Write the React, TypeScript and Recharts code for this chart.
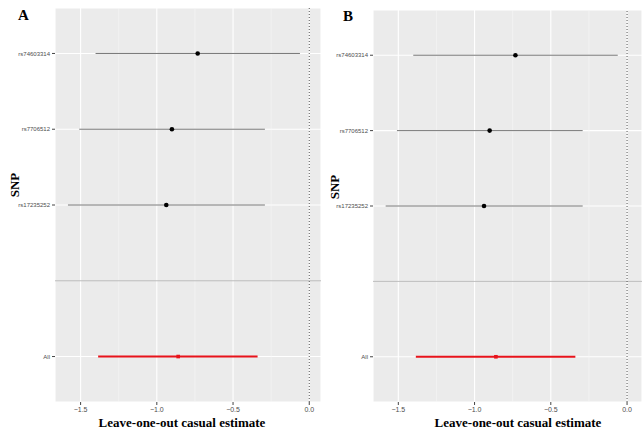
import React from 'react';
import { ScatterChart, Scatter, XAxis, YAxis, CartesianGrid, ReferenceLine, ErrorBar } from 'recharts';

const snps = ['rs74603314', 'rs7706512', 'rs17235252', 'All'];
const estimates = [-0.732, -0.901, -0.938, -0.86];
const lower = [-1.402, -1.509, -1.583, -1.385];
const upper = [-0.061, -0.291, -0.291, -0.339];
const xTicks = [-1.5, -1.0, -0.5, 0.0];
const minorTicks = [-1.25, -0.75, -0.25];

// the pooled "All" row sits one slot below a blank separator
const rows = snps.map((snp, i) => ({
  snp,
  pos: snp === 'All' ? snps.length + 1 : i + 1,
  est: estimates[i],
  err: [estimates[i] - lower[i], upper[i] - estimates[i]],
}));
const singleRows = rows.filter(r => r.snp !== 'All');
const allRows = rows.filter(r => r.snp === 'All');
const yTicks = rows.map(r => r.pos);
const labelFor = (v: number) => rows.find(r => r.pos === v)?.snp ?? '';
const fmtX = (v: number) => (v < 0 ? '\u2212' + Math.abs(v).toFixed(1) : v.toFixed(1));

const sans = '"Liberation Sans", Arial, sans-serif';
const serif = '"Liberation Serif", "Times New Roman", serif';

const Dot = (props: any) => <circle cx={props.cx} cy={props.cy} r={2.3} fill="#000" />;
const RedDot = (props: any) => <rect x={props.cx - 1.8} y={props.cy - 1.8} width={3.6} height={3.6} fill="#e8131b" />;

interface PanelProps {
  letter: string;
  left: number;
  width: number;
  axisWidth: number;
  rightMargin: number;
  domain: [number, number];
  titleX: number;
  snpY: number;
  letterX: number;
  letterY: number;
  top: number;
}

const Panel: React.FC<PanelProps> = ({ letter, left, width, axisWidth, rightMargin, domain, titleX, snpY, letterX, letterY, top }) => (
  <div style={{ position: 'absolute', left, top: 0, width, height: 432 }}>
    <ScatterChart width={width} height={432} margin={{ top, right: rightMargin, left: 0, bottom: 0 }}>
      <CartesianGrid fill="#ebebeb" stroke="#ffffff" strokeWidth={1.1} />
      {minorTicks.map(t => (
        <ReferenceLine key={t} x={t} stroke="#f7f7f7" strokeWidth={0.6} />
      ))}
      <ReferenceLine y={4} stroke="#bdbdbd" strokeWidth={1} />
      <ReferenceLine x={0} stroke="#555" strokeDasharray="1 2" strokeWidth={1} />
      <XAxis
        type="number"
        dataKey="est"
        domain={domain}
        ticks={xTicks}
        tickFormatter={fmtX}
        allowDataOverflow
        axisLine={false}
        tickSize={3}
        tickLine={{ stroke: '#444' }}
        height={30}
        tick={{ fill: '#4d4d4d', fontSize: 7, fontFamily: sans }}
      />
      <YAxis
        type="number"
        dataKey="pos"
        reversed
        domain={[0.4, 5.6]}
        ticks={yTicks}
        tickFormatter={labelFor}
        axisLine={false}
        tickSize={3}
        tickLine={{ stroke: '#444' }}
        width={axisWidth}
        tick={{ fill: '#4d4d4d', fontSize: 6, fontFamily: sans }}
      />
      <Scatter data={singleRows} shape={Dot} isAnimationActive={false}>
        <ErrorBar dataKey="err" direction="x" width={0} stroke="#777" strokeWidth={1} />
      </Scatter>
      <Scatter data={allRows} shape={RedDot} isAnimationActive={false}>
        <ErrorBar dataKey="err" direction="x" width={0} stroke="#e8131b" strokeWidth={2} />
      </Scatter>
    </ScatterChart>
    <div style={{ position: 'absolute', left: letterX, top: letterY, fontFamily: serif, fontWeight: 'bold', fontSize: 15, lineHeight: 1 }}>
      {letter}
    </div>
    <div
      style={{
        position: 'absolute', left: 14, top: snpY, fontFamily: serif, fontWeight: 'bold', fontSize: 13,
        transform: 'translate(-50%, -50%) rotate(-90deg)', lineHeight: 1, whiteSpace: 'nowrap',
      }}
    >
      SNP
    </div>
    <div
      style={{
        position: 'absolute', left: titleX, top: 422, fontFamily: serif, fontWeight: 'bold', fontSize: 13,
        transform: 'translate(-50%, -50%)', lineHeight: 1, whiteSpace: 'nowrap',
      }}
    >
      Leave-one-out casual estimate
    </div>
  </div>
);

export default function App() {
  return (
    <div style={{ position: 'absolute', left: 0, top: 0, width: 642, height: 432, background: '#fff', overflow: 'hidden' }}>
      <Panel letter="A" left={0} width={330} axisWidth={55} rightMargin={9} domain={[-1.668, 0.077]}
        titleX={182} snpY={185} letterX={18} letterY={8} top={8} />
      <Panel letter="B" left={320} width={322} axisWidth={53} rightMargin={0} domain={[-1.666, 0.098]}
        titleX={198} snpY={187} letterX={23} letterY={9} top={10} />
    </div>
  );
}
